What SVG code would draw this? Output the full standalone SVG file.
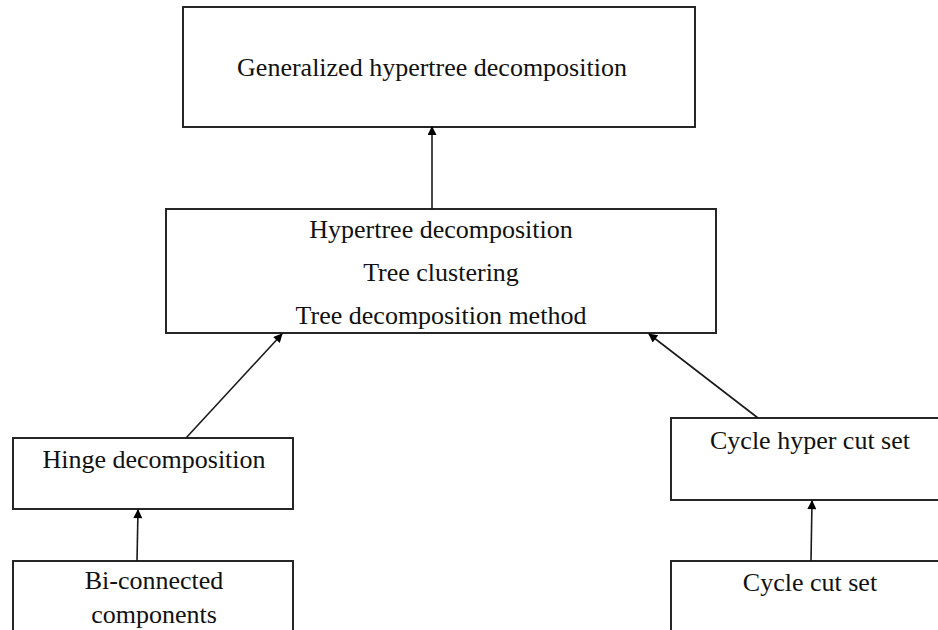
<svg xmlns="http://www.w3.org/2000/svg" width="938" height="630" viewBox="0 0 938 630">
<style>
.box{fill:#fff;stroke:#262626;stroke-width:2}
.t{font-family:"Liberation Serif","DejaVu Serif",serif;font-size:26px;fill:#111;text-anchor:middle}
.c{stroke:#1a1a1a;stroke-width:1.6;fill:none;marker-end:url(#ah)}
</style>
<defs>
<marker id="ah" viewBox="0 0 10 10" refX="9" refY="5" markerWidth="10" markerHeight="9" orient="auto" markerUnits="userSpaceOnUse">
<path d="M0,0 L10,5 L0,10 z" fill="#000"/>
</marker>
</defs>
<rect width="938" height="630" fill="#fff"/>
<g id="n-generalized">
<rect class="box" x="183" y="7" width="512" height="120"/>
<text class="t" x="432" y="76" font-size="28">Generalized hypertree decomposition</text>
</g>
<g id="n-hypertree">
<rect class="box" x="166" y="209" width="550" height="124"/>
<text class="t" x="441" y="238">Hypertree decomposition</text>
<text class="t" x="441" y="281">Tree clustering</text>
<text class="t" x="441" y="324">Tree decomposition method</text>
</g>
<g id="n-hinge">
<rect class="box" x="13" y="438" width="280" height="71"/>
<text class="t" x="154" y="468">Hinge decomposition</text>
</g>
<g id="n-biconnected">
<rect class="box" x="13" y="561" width="280" height="80"/>
<text class="t" x="154" y="589">Bi-connected</text>
<text class="t" x="154" y="623">components</text>
</g>
<g id="n-cyclehyper">
<rect class="box" x="671" y="418" width="280" height="82"/>
<text class="t" x="810" y="449">Cycle hyper cut set</text>
</g>
<g id="n-cyclecut">
<rect class="box" x="671" y="561" width="280" height="80"/>
<text class="t" x="810" y="591">Cycle cut set</text>
</g>
<g id="connectors">
<line class="c" x1="432" y1="209" x2="432" y2="127"/>
<line class="c" x1="186" y1="438" x2="282" y2="334"/>
<line class="c" x1="758" y1="418" x2="649" y2="334"/>
<line class="c" x1="137" y1="561" x2="138" y2="510"/>
<line class="c" x1="811" y1="561" x2="812" y2="501"/>
</g>
</svg>
